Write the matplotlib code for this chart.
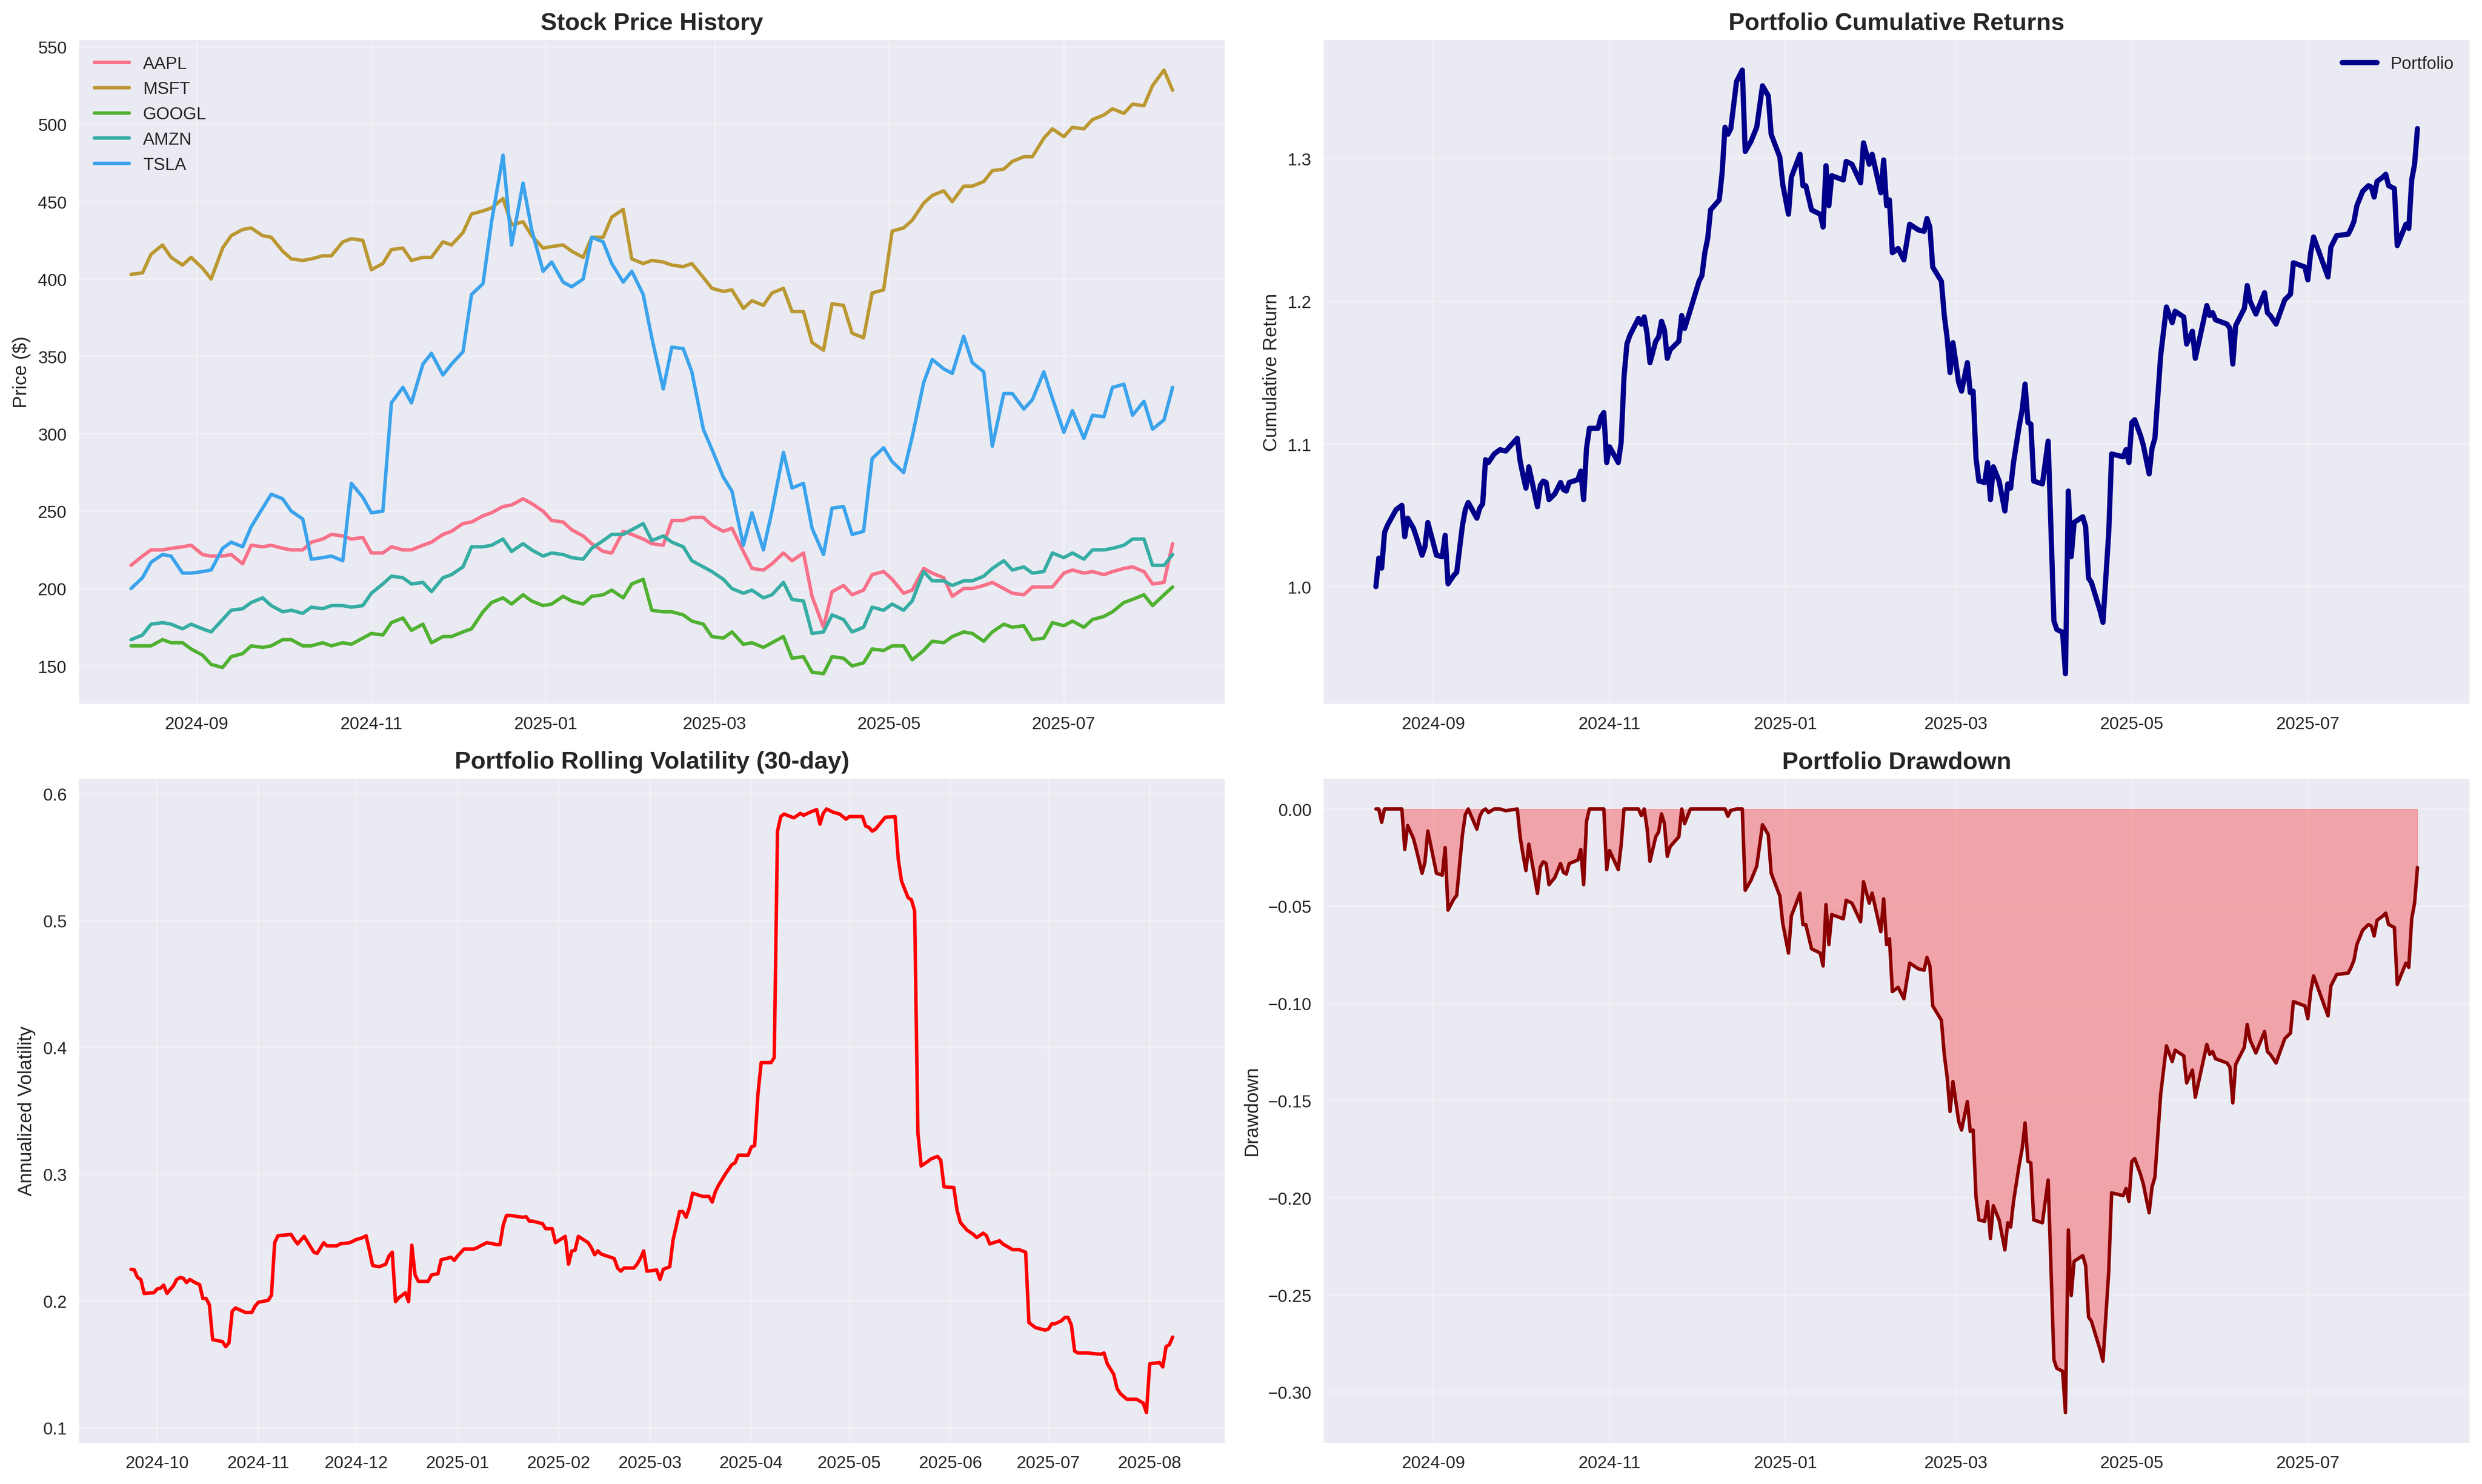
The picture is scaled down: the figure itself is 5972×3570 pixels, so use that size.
import matplotlib
matplotlib.use("Agg")
import matplotlib.pyplot as plt
import pandas as pd

plt.style.use("seaborn-v0_8")

# ---- stock prices, sampled every Tuesday and Friday ----
start, end = "2024-08-09", "2025-08-08"
price_dates = pd.date_range(start, end, freq="W-TUE").union(
    pd.date_range(start, end, freq="W-FRI"))

tickers = ["AAPL", "MSFT", "GOOGL", "AMZN", "TSLA"]
colors = ["#f77189", "#bb9832", "#50b131", "#36ada4", "#3ba3ec"]

aapl = [215, 221, 225, 225, 226, 227, 228,
        222, 221, 221, 222, 216, 228, 227, 228,
        226, 225, 225, 230, 232, 235, 234, 232, 233,
        223, 223, 227, 225, 225, 228, 230, 235, 237,
        242, 243, 247, 249, 253, 254, 258, 255, 250,
        244, 243, 238, 234, 229, 224, 223, 237, 235,
        232, 229, 228, 244, 244, 246, 246, 241,
        237, 239, 224, 213, 212, 216, 223, 218,
        223, 195, 175, 198, 202, 196, 199, 209, 211,
        206, 197, 199, 213, 210, 207, 195, 200, 200,
        202, 204, 200, 197, 196, 201, 201, 201,
        210, 212, 210, 211, 209, 211, 213, 214, 211,
        203, 204, 229]

msft = [403, 404, 416, 422, 414, 409, 414,
        407, 400, 420, 428, 432, 433, 428, 427,
        418, 413, 412, 413, 415, 415, 424, 426, 425,
        406, 410, 419, 420, 412, 414, 414, 424, 422,
        430, 442, 444, 446, 452, 435, 437, 428, 420,
        421, 422, 418, 414, 427, 427, 440, 445, 413,
        410, 412, 411, 409, 408, 410, 401, 394,
        392, 393, 381, 386, 383, 391, 394, 379,
        379, 359, 354, 384, 383, 365, 362, 391, 393,
        431, 433, 438, 449, 454, 457, 450, 460, 460,
        463, 470, 471, 476, 479, 479, 491, 497,
        492, 498, 497, 503, 506, 510, 507, 513, 512,
        525, 535, 522]

googl = [163, 163, 163, 167, 165, 165, 161,
         157, 151, 149, 156, 158, 163, 162, 163,
         167, 167, 163, 163, 165, 163, 165, 164, 168,
         171, 170, 178, 181, 173, 177, 165, 169, 169,
         172, 174, 185, 191, 194, 190, 196, 192, 189,
         190, 195, 192, 190, 195, 196, 199, 194, 203,
         206, 186, 185, 185, 183, 179, 177, 169,
         168, 172, 164, 165, 162, 165, 169, 155,
         156, 146, 145, 156, 155, 150, 152, 161, 160,
         163, 163, 154, 160, 166, 165, 169, 172, 171,
         166, 172, 177, 175, 176, 167, 168, 178,
         176, 179, 175, 180, 182, 185, 191, 193, 196,
         189, 196, 201]

amzn = [167, 170, 177, 178, 177, 174, 177,
        174, 172, 180, 186, 187, 191, 194, 189,
        185, 186, 184, 188, 187, 189, 189, 188, 189,
        197, 203, 208, 207, 203, 204, 198, 207, 209,
        214, 227, 227, 228, 232, 224, 229, 225, 221,
        223, 222, 220, 219, 226, 231, 235, 235, 238,
        242, 231, 234, 230, 227, 218, 214, 211,
        206, 200, 197, 199, 194, 196, 204, 193,
        192, 171, 172, 183, 180, 172, 175, 188, 186,
        190, 186, 192, 211, 205, 205, 202, 205, 205,
        208, 213, 218, 212, 214, 210, 211, 223,
        220, 223, 219, 225, 225, 226, 228, 232, 232,
        215, 215, 222]

tsla = [200, 207, 217, 222, 221, 210, 210,
        211, 212, 226, 230, 227, 240, 252, 261,
        258, 250, 245, 219, 220, 221, 218, 268, 259,
        249, 250, 320, 330, 320, 345, 352, 338, 345,
        353, 390, 397, 437, 480, 422, 462, 432, 405,
        411, 398, 395, 400, 427, 424, 410, 398, 405,
        390, 362, 329, 356, 355, 340, 303, 290,
        272, 263, 228, 249, 225, 250, 288, 265,
        268, 239, 222, 252, 253, 235, 237, 284, 291,
        282, 275, 298, 333, 348, 342, 339, 363, 346,
        340, 292, 326, 326, 316, 322, 340, 323,
        301, 315, 297, 312, 311, 330, 332, 312, 321,
        303, 309, 330]

# ---- portfolio cumulative return ----
port_dates = [
    "2024-08-12", "2024-08-13", "2024-08-14", "2024-08-15", "2024-08-16", "2024-08-19",
    "2024-08-21", "2024-08-22", "2024-08-23", "2024-08-25", "2024-08-26", "2024-08-28",
    "2024-08-29", "2024-08-30", "2024-09-02", "2024-09-04", "2024-09-05", "2024-09-06",
    "2024-09-08", "2024-09-09", "2024-09-11", "2024-09-12", "2024-09-13", "2024-09-16",
    "2024-09-17", "2024-09-18", "2024-09-19", "2024-09-20", "2024-09-22", "2024-09-24",
    "2024-09-26", "2024-09-30", "2024-10-01", "2024-10-02", "2024-10-03", "2024-10-04",
    "2024-10-07", "2024-10-08", "2024-10-09", "2024-10-10", "2024-10-11", "2024-10-13",
    "2024-10-15", "2024-10-16", "2024-10-17", "2024-10-18", "2024-10-21", "2024-10-22",
    "2024-10-23", "2024-10-24", "2024-10-25", "2024-10-28", "2024-10-29", "2024-10-30",
    "2024-10-31", "2024-11-01", "2024-11-04", "2024-11-05", "2024-11-06", "2024-11-07",
    "2024-11-08", "2024-11-11", "2024-11-12", "2024-11-13", "2024-11-14", "2024-11-15",
    "2024-11-17", "2024-11-18", "2024-11-19", "2024-11-20", "2024-11-21", "2024-11-22",
    "2024-11-25", "2024-11-26", "2024-11-27", "2024-11-29", "2024-12-02", "2024-12-03",
    "2024-12-04", "2024-12-05", "2024-12-06", "2024-12-09", "2024-12-10", "2024-12-11",
    "2024-12-12", "2024-12-13", "2024-12-15", "2024-12-17", "2024-12-18", "2024-12-20",
    "2024-12-22", "2024-12-24", "2024-12-26", "2024-12-27", "2024-12-30", "2024-12-31",
    "2025-01-02", "2025-01-03", "2025-01-06", "2025-01-07", "2025-01-08", "2025-01-10",
    "2025-01-13", "2025-01-14", "2025-01-15", "2025-01-16", "2025-01-17", "2025-01-21",
    "2025-01-22", "2025-01-24", "2025-01-27", "2025-01-28", "2025-01-30", "2025-01-31",
    "2025-02-03", "2025-02-04", "2025-02-05", "2025-02-06", "2025-02-07", "2025-02-09",
    "2025-02-11", "2025-02-13", "2025-02-16", "2025-02-18", "2025-02-19", "2025-02-20",
    "2025-02-21", "2025-02-24", "2025-02-25", "2025-02-26", "2025-02-27", "2025-02-28",
    "2025-03-02", "2025-03-03", "2025-03-05", "2025-03-06", "2025-03-07", "2025-03-08",
    "2025-03-09", "2025-03-11", "2025-03-12", "2025-03-13", "2025-03-14", "2025-03-16",
    "2025-03-18", "2025-03-19", "2025-03-20", "2025-03-21", "2025-03-23", "2025-03-24",
    "2025-03-25", "2025-03-26", "2025-03-27", "2025-03-28", "2025-03-31", "2025-04-02",
    "2025-04-04", "2025-04-05", "2025-04-07", "2025-04-08", "2025-04-09", "2025-04-10",
    "2025-04-11", "2025-04-14", "2025-04-15", "2025-04-16", "2025-04-17", "2025-04-20",
    "2025-04-21", "2025-04-23", "2025-04-24", "2025-04-28", "2025-04-29", "2025-04-30",
    "2025-05-01", "2025-05-02", "2025-05-04", "2025-05-05", "2025-05-07", "2025-05-08",
    "2025-05-09", "2025-05-11", "2025-05-13", "2025-05-15", "2025-05-16", "2025-05-19",
    "2025-05-20", "2025-05-22", "2025-05-23", "2025-05-27", "2025-05-28", "2025-05-29",
    "2025-05-30", "2025-06-03", "2025-06-04", "2025-06-05", "2025-06-06", "2025-06-09",
    "2025-06-10", "2025-06-11", "2025-06-13", "2025-06-16", "2025-06-17", "2025-06-18",
    "2025-06-20", "2025-06-23", "2025-06-25", "2025-06-26", "2025-06-30", "2025-07-01",
    "2025-07-02", "2025-07-03", "2025-07-08", "2025-07-09", "2025-07-11", "2025-07-15",
    "2025-07-16", "2025-07-17", "2025-07-18", "2025-07-20", "2025-07-22", "2025-07-23",
    "2025-07-24", "2025-07-25", "2025-07-27", "2025-07-28", "2025-07-29", "2025-07-31",
    "2025-08-01", "2025-08-04", "2025-08-05", "2025-08-06", "2025-08-07", "2025-08-08"]

port_values = [
    1.000, 1.020, 1.013, 1.038, 1.043, 1.054,
    1.057, 1.035, 1.048, 1.041, 1.035, 1.022,
    1.028, 1.045, 1.022, 1.021, 1.036, 1.002,
    1.008, 1.010, 1.043, 1.054, 1.059, 1.048,
    1.055, 1.058, 1.089, 1.087, 1.093, 1.096,
    1.095, 1.104, 1.088, 1.078, 1.069, 1.084,
    1.056, 1.071, 1.074, 1.073, 1.061, 1.065,
    1.073, 1.068, 1.067, 1.073, 1.075, 1.081,
    1.061, 1.097, 1.111, 1.111, 1.119, 1.122,
    1.087, 1.098, 1.087, 1.101, 1.147, 1.170,
    1.176, 1.188, 1.184, 1.189, 1.177, 1.157,
    1.172, 1.175, 1.186, 1.180, 1.160, 1.166,
    1.172, 1.190, 1.181, 1.194, 1.214, 1.218,
    1.234, 1.244, 1.264, 1.271, 1.290, 1.322,
    1.317, 1.321, 1.354, 1.362, 1.305, 1.312,
    1.322, 1.351, 1.344, 1.317, 1.301, 1.282,
    1.261, 1.287, 1.303, 1.281, 1.281, 1.264,
    1.261, 1.252, 1.295, 1.267, 1.288, 1.285,
    1.298, 1.296, 1.283, 1.311, 1.296, 1.303,
    1.276, 1.299, 1.267, 1.271, 1.234, 1.237,
    1.229, 1.254, 1.250, 1.249, 1.258, 1.252,
    1.224, 1.214, 1.190, 1.174, 1.150, 1.171,
    1.143, 1.137, 1.157, 1.136, 1.137, 1.090,
    1.074, 1.073, 1.087, 1.061, 1.084, 1.074,
    1.053, 1.072, 1.069, 1.087, 1.113, 1.124,
    1.142, 1.115, 1.114, 1.074, 1.072, 1.102,
    0.976, 0.970, 0.968, 0.939, 1.067, 1.021,
    1.045, 1.049, 1.042, 1.006, 1.003, 0.983,
    0.975, 1.038, 1.093, 1.091, 1.096, 1.087,
    1.115, 1.117, 1.106, 1.099, 1.079, 1.097,
    1.104, 1.162, 1.196, 1.185, 1.193, 1.189,
    1.170, 1.179, 1.160, 1.197, 1.190, 1.192,
    1.187, 1.184, 1.181, 1.156, 1.183, 1.195,
    1.211, 1.200, 1.191, 1.206, 1.192, 1.190,
    1.184, 1.201, 1.205, 1.227, 1.224, 1.215,
    1.234, 1.245, 1.217, 1.238, 1.246, 1.247,
    1.251, 1.256, 1.267, 1.277, 1.281, 1.280,
    1.273, 1.284, 1.287, 1.289, 1.281, 1.279,
    1.239, 1.254, 1.251, 1.285, 1.296, 1.321]

# ---- rolling 30-day annualised volatility ----
vol_dates = [
    "2024-09-23", "2024-09-24", "2024-09-25", "2024-09-26", "2024-09-27", "2024-09-30",
    "2024-10-01", "2024-10-02", "2024-10-03", "2024-10-04", "2024-10-06", "2024-10-07",
    "2024-10-08", "2024-10-09", "2024-10-10", "2024-10-11", "2024-10-13", "2024-10-14",
    "2024-10-15", "2024-10-16", "2024-10-17", "2024-10-18", "2024-10-21", "2024-10-22",
    "2024-10-23", "2024-10-24", "2024-10-25", "2024-10-28", "2024-10-30", "2024-10-31",
    "2024-11-01", "2024-11-04", "2024-11-05", "2024-11-06", "2024-11-07", "2024-11-11",
    "2024-11-12", "2024-11-13", "2024-11-15", "2024-11-18", "2024-11-19", "2024-11-21",
    "2024-11-22", "2024-11-25", "2024-11-26", "2024-11-29", "2024-12-01", "2024-12-03",
    "2024-12-04", "2024-12-05", "2024-12-06", "2024-12-08", "2024-12-10", "2024-12-11",
    "2024-12-12", "2024-12-13", "2024-12-14", "2024-12-16", "2024-12-17", "2024-12-18",
    "2024-12-19", "2024-12-20", "2024-12-23", "2024-12-24", "2024-12-26", "2024-12-27",
    "2024-12-30", "2024-12-31", "2025-01-01", "2025-01-03", "2025-01-06", "2025-01-07",
    "2025-01-08", "2025-01-10", "2025-01-13", "2025-01-14", "2025-01-15", "2025-01-16",
    "2025-01-17", "2025-01-21", "2025-01-22", "2025-01-23", "2025-01-24", "2025-01-27",
    "2025-01-28", "2025-01-30", "2025-01-31", "2025-02-03", "2025-02-04", "2025-02-05",
    "2025-02-06", "2025-02-07", "2025-02-10", "2025-02-11", "2025-02-12", "2025-02-13",
    "2025-02-14", "2025-02-18", "2025-02-19", "2025-02-20", "2025-02-21", "2025-02-24",
    "2025-02-25", "2025-02-26", "2025-02-27", "2025-02-28", "2025-03-03", "2025-03-04",
    "2025-03-05", "2025-03-07", "2025-03-08", "2025-03-10", "2025-03-11", "2025-03-12",
    "2025-03-13", "2025-03-14", "2025-03-17", "2025-03-19", "2025-03-20", "2025-03-21",
    "2025-03-22", "2025-03-24", "2025-03-26", "2025-03-27", "2025-03-28", "2025-03-31",
    "2025-04-01", "2025-04-02", "2025-04-03", "2025-04-04", "2025-04-07", "2025-04-08",
    "2025-04-09", "2025-04-10", "2025-04-11", "2025-04-13", "2025-04-14", "2025-04-16",
    "2025-04-17", "2025-04-19", "2025-04-21", "2025-04-22", "2025-04-23", "2025-04-24",
    "2025-04-26", "2025-04-28", "2025-04-29", "2025-04-30", "2025-05-01", "2025-05-05",
    "2025-05-06", "2025-05-07", "2025-05-08", "2025-05-09", "2025-05-12", "2025-05-15",
    "2025-05-16", "2025-05-17", "2025-05-19", "2025-05-20", "2025-05-21", "2025-05-22",
    "2025-05-23", "2025-05-25", "2025-05-26", "2025-05-28", "2025-05-29", "2025-05-30",
    "2025-06-02", "2025-06-03", "2025-06-04", "2025-06-06", "2025-06-08", "2025-06-09",
    "2025-06-11", "2025-06-12", "2025-06-13", "2025-06-16", "2025-06-17", "2025-06-18",
    "2025-06-20", "2025-06-22", "2025-06-24", "2025-06-25", "2025-06-27", "2025-06-30",
    "2025-07-01", "2025-07-02", "2025-07-03", "2025-07-05", "2025-07-06", "2025-07-07",
    "2025-07-08", "2025-07-09", "2025-07-10", "2025-07-13", "2025-07-17", "2025-07-18",
    "2025-07-19", "2025-07-21", "2025-07-22", "2025-07-23", "2025-07-25", "2025-07-28",
    "2025-07-30", "2025-07-31", "2025-08-01", "2025-08-04", "2025-08-05", "2025-08-06",
    "2025-08-07", "2025-08-08"]

vol_values = [
    0.225, 0.2245, 0.2185, 0.217, 0.206, 0.2065,
    0.2095, 0.210, 0.2125, 0.206, 0.212, 0.217,
    0.2185, 0.218, 0.2145, 0.217, 0.214, 0.213,
    0.202, 0.202, 0.197, 0.1695, 0.168, 0.164,
    0.167, 0.192, 0.1945, 0.191, 0.191, 0.196,
    0.199, 0.2005, 0.2045, 0.246, 0.2515, 0.2525,
    0.2485, 0.245, 0.251, 0.2385, 0.2375, 0.246,
    0.2435, 0.2435, 0.245, 0.246, 0.2485, 0.250,
    0.2515, 0.240, 0.228, 0.227, 0.229, 0.2355,
    0.2385, 0.1995, 0.2025, 0.2065, 0.1995, 0.244,
    0.2205, 0.2155, 0.2155, 0.2205, 0.2215, 0.2325,
    0.2345, 0.232, 0.2355, 0.241, 0.241, 0.242,
    0.2435, 0.246, 0.2445, 0.2445, 0.260, 0.2675,
    0.2675, 0.266, 0.2665, 0.263, 0.263, 0.261,
    0.257, 0.257, 0.246, 0.251, 0.229, 0.2395,
    0.240, 0.251, 0.246, 0.242, 0.2365, 0.2395,
    0.237, 0.2335, 0.226, 0.2235, 0.226, 0.226,
    0.229, 0.2335, 0.2395, 0.2235, 0.2245, 0.217,
    0.225, 0.227, 0.248, 0.2705, 0.2705, 0.266,
    0.2735, 0.285, 0.2825, 0.2825, 0.278, 0.2865,
    0.2915, 0.300, 0.3075, 0.309, 0.315, 0.315,
    0.3215, 0.3225, 0.363, 0.388, 0.388, 0.392,
    0.5705, 0.582, 0.584, 0.582, 0.581, 0.5845,
    0.583, 0.5855, 0.5875, 0.576, 0.5845, 0.588,
    0.5855, 0.584, 0.582, 0.580, 0.582, 0.582,
    0.5745, 0.5735, 0.5705, 0.572, 0.5815, 0.582,
    0.548, 0.531, 0.518, 0.5165, 0.5075, 0.3325,
    0.3065, 0.310, 0.312, 0.314, 0.311, 0.290,
    0.2895, 0.2715, 0.262, 0.256, 0.2525, 0.250,
    0.2535, 0.2515, 0.245, 0.2475, 0.245, 0.2435,
    0.2405, 0.2405, 0.2385, 0.183, 0.179, 0.177,
    0.178, 0.182, 0.182, 0.1845, 0.187, 0.187,
    0.181, 0.1605, 0.159, 0.159, 0.158, 0.159,
    0.1505, 0.142, 0.131, 0.127, 0.1225, 0.1225,
    0.1195, 0.112, 0.1505, 0.1515, 0.148, 0.164,
    0.1655, 0.1715]

prices = [aapl, msft, googl, amzn, tsla]
cum = pd.Series(port_values, index=pd.to_datetime(port_dates))
drawdown = cum / cum.cummax() - 1
vol = pd.Series(vol_values, index=pd.to_datetime(vol_dates))

fig, axes = plt.subplots(2, 2, figsize=(20, 12))

# Stock prices
ax = axes[0, 0]
for name, vals, c in zip(tickers, prices, colors):
    ax.plot(price_dates, vals, label=name, color=c, linewidth=2)
ax.set_title("Stock Price History", fontsize=14, fontweight="bold")
ax.set_ylabel("Price ($)")
ax.legend(loc="upper left")
ax.grid(True, alpha=0.3)

# Cumulative returns
ax = axes[0, 1]
ax.plot(cum.index, cum.values, color="darkblue", linewidth=3, label="Portfolio")
ax.set_title("Portfolio Cumulative Returns", fontsize=14, fontweight="bold")
ax.set_ylabel("Cumulative Return")
ax.legend(loc="upper right")
ax.grid(True, alpha=0.3)

# Rolling volatility
ax = axes[1, 0]
ax.plot(vol.index, vol.values, color="red", linewidth=2)
ax.set_title("Portfolio Rolling Volatility (30-day)", fontsize=14, fontweight="bold")
ax.set_ylabel("Annualized Volatility")
ax.grid(True, alpha=0.3)

# Drawdown
ax = axes[1, 1]
ax.fill_between(drawdown.index, drawdown.values, 0, color="red", alpha=0.3)
ax.plot(drawdown.index, drawdown.values, color="darkred", linewidth=2)
ax.set_title("Portfolio Drawdown", fontsize=14, fontweight="bold")
ax.set_ylabel("Drawdown")
ax.grid(True, alpha=0.3)

plt.tight_layout()
plt.savefig("out.png", dpi=300, bbox_inches="tight")
